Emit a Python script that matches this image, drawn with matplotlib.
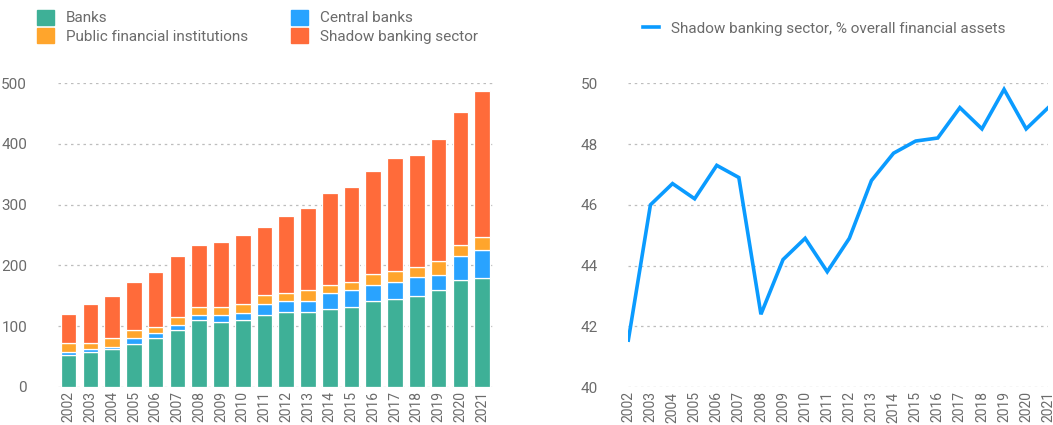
import matplotlib
matplotlib.use("Agg")
import matplotlib.pyplot as plt
from matplotlib.patches import Patch
from matplotlib.lines import Line2D

years = [str(y) for y in range(2002, 2022)]

# stacked components (cumulative, converted to segment values)
banks = [53, 57, 61.5, 71, 80, 93, 110, 106, 110, 119, 123, 123, 127.5, 132, 141, 145, 150, 159, 176, 180]
central = [5, 5.5, 4.5, 9, 8, 8.5, 8, 11.5, 12, 18, 18, 19, 27.5, 27, 27, 27.5, 31, 26, 40, 45]
public = [13.5, 9, 15, 13.5, 10, 13, 14, 14.5, 14.5, 13.5, 14, 17, 13, 14, 17.5, 17.5, 17, 23, 17.5, 22]
shadow = [48, 64.5, 69, 78.5, 91.5, 101, 101.5, 106, 114, 113, 126, 135.5, 152, 156, 170.5, 187.5, 184, 201, 218.5, 241]

shadow_pct = [41.55, 46.0, 46.7, 46.2, 47.3, 46.9, 42.4, 44.2, 44.9, 43.8, 44.9,
              46.8, 47.7, 48.1, 48.2, 49.2, 48.5, 49.8, 48.5, 49.2]

C_BANKS = "#3eb097"
C_CENTRAL = "#29a3ff"
C_PUBLIC = "#ffa52c"
C_SHADOW = "#ff6b3a"
C_LINE = "#0a9bff"
TXT = "#6b6b6b"
GRID = "#bdbdbd"

plt.rcParams["font.family"] = ["Roboto", "DejaVu Sans"]

fig = plt.figure(figsize=(10.53, 4.25), dpi=100)
ax1 = fig.add_axes([0.0548, 0.0899, 0.4134, 0.7141])
ax2 = fig.add_axes([0.5967, 0.0889, 0.3988, 0.7151])

x = list(range(len(years)))
bottom = [0] * len(years)
for vals, col in [(banks, C_BANKS), (central, C_CENTRAL), (public, C_PUBLIC), (shadow, C_SHADOW)]:
    ax1.bar(x, vals, bottom=bottom, width=0.72, color=col, edgecolor="white", linewidth=0.9, zorder=3)
    bottom = [b + v for b, v in zip(bottom, vals)]

ax1.set_xlim(-0.5, len(years) - 0.5)
ax1.set_ylim(0, 500)
ax1.set_yticks([0, 100, 200, 300, 400, 500])

ax2.plot(x, shadow_pct, color=C_LINE, linewidth=2.6, solid_joinstyle="miter", zorder=3)
ax2.set_xlim(0, len(years) - 1)
ax2.set_ylim(40, 50)
ax2.set_yticks([40, 42, 44, 46, 48, 50])

for ax in (ax1, ax2):
    ax.set_xticks(x)
    ax.set_xticklabels(years, rotation=90)
    for s in ax.spines.values():
        s.set_visible(False)
    ax.grid(axis="y", color=GRID, linestyle=(0, (2, 3)), linewidth=0.9, zorder=0)
    ax.tick_params(axis="y", length=0, colors=TXT, labelsize=11, pad=22)
    ax.tick_params(axis="x", length=0, colors=TXT, labelsize=10, pad=3)

handles = [
    Patch(facecolor=C_BANKS, edgecolor=C_BANKS, label="Banks"),
    Patch(facecolor=C_PUBLIC, edgecolor=C_PUBLIC, label="Public financial institutions"),
    Patch(facecolor=C_CENTRAL, edgecolor=C_CENTRAL, label="Central banks"),
    Patch(facecolor=C_SHADOW, edgecolor=C_SHADOW, label="Shadow banking sector"),
]
fig.legend(handles=handles, ncol=2, loc="upper left", bbox_to_anchor=(0.022, 1.01),
           frameon=False, fontsize=11, labelcolor=TXT, handlelength=1.1, handleheight=1.15,
           handletextpad=0.8, columnspacing=2.8, labelspacing=0.2)

fig.legend(handles=[Line2D([0], [0], color=C_LINE, linewidth=2.6,
                           label="Shadow banking sector, % overall financial assets")],
           loc="upper left", bbox_to_anchor=(0.598, 0.981), frameon=False, fontsize=11,
           labelcolor=TXT, handlelength=1.0, handletextpad=0.8)

fig.savefig("out.png", dpi=100, facecolor="white")
